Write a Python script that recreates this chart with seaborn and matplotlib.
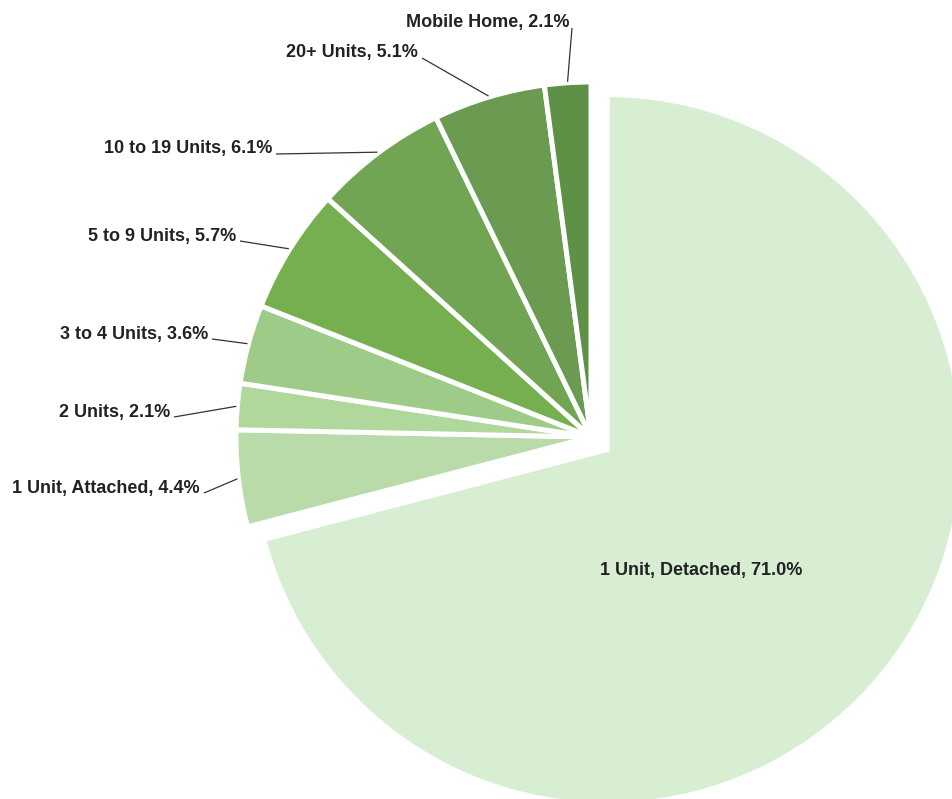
import numpy as np
import matplotlib
matplotlib.use("Agg")
import matplotlib.pyplot as plt
import seaborn as sns

# ---- data ----
categories = ["1 Unit, Detached", "1 Unit, Attached", "2 Units", "3 to 4 Units",
              "5 to 9 Units", "10 to 19 Units", "20+ Units", "Mobile Home"]
shares = [71.0, 4.4, 2.1, 3.6, 5.7, 6.1, 5.1, 2.1]
labels = [f"{c}, {v:.1f}%" for c, v in zip(categories, shares)]

# ---- style ----
colors = ["#d8eed3", "#b9dba9", "#b0d79c", "#9fcb88",
          "#76af4f", "#71a553", "#6a9b50", "#5e9046"]

sns.set_theme(style="white")
plt.rcParams["font.family"] = ["Liberation Sans", "DejaVu Sans"]

W, H = 952, 799
fig = plt.figure(figsize=(W / 100, H / 100), dpi=100)
ax = fig.add_axes([0, 0, 1, 1])


def py(y):
    return H - y


center = (591, py(437))
radius = 355
# matplotlib offsets exploded wedges in data units
explode = [0.058 * radius] + [0] * (len(shares) - 1)

wedges, _ = ax.pie(shares, colors=colors, startangle=90, counterclock=False,
                   explode=explode, center=center, radius=radius,
                   wedgeprops=dict(edgecolor="white", linewidth=3.6))
ax.set_xlim(0, W)
ax.set_ylim(0, H)
ax.set_aspect("equal")
ax.axis("off")

# label text anchors (pixel coords of right end, vertical centre)
label_pos = {
    1: (200, 488),
    2: (170, 412),
    3: (208, 334),
    4: (236, 236),
    5: (272, 149),
    6: (418, 53),
    7: (569, 22),
}
text_kw = dict(fontsize=13, fontweight="bold", color="#222222")

for i, w in enumerate(wedges):
    if i == 0:
        ax.text(701, py(571), labels[i], ha="center", va="center", **text_kw)
        continue
    tx, ty = label_pos[i]
    ax.text(tx, py(ty), labels[i], ha="right", va="center", **text_kw)
    mid = np.deg2rad((w.theta1 + w.theta2) / 2)
    cx, cy = w.center
    ex = cx + (w.r + 1) * np.cos(mid)
    ey = cy + (w.r + 1) * np.sin(mid)
    if i == 7:
        sx, sy = tx + 3, py(ty + 6)
    else:
        sx, sy = tx + 4, py(ty + 5)
    ax.plot([sx, ex], [sy, ey], color="#333333", lw=0.9, solid_capstyle="butt")

fig.savefig("out.png", dpi=100, facecolor="white")
